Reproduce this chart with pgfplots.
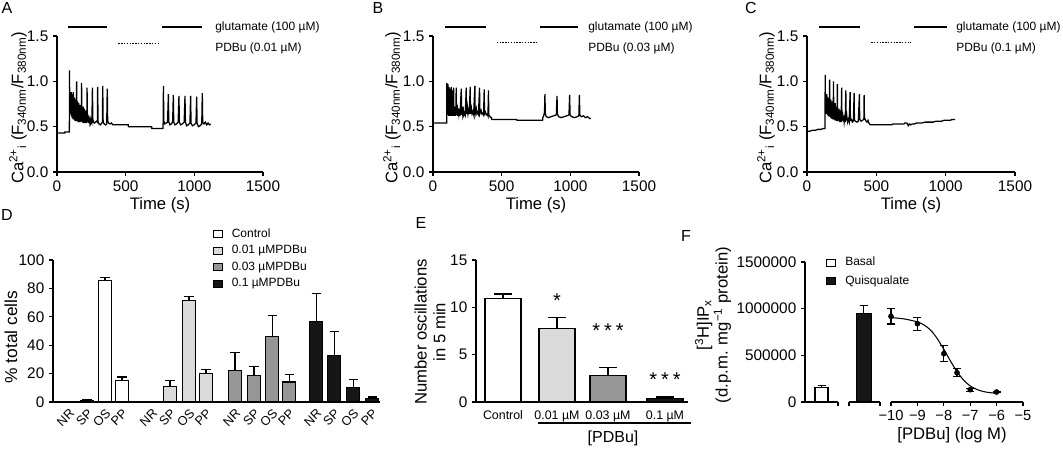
\documentclass[border=0pt]{standalone}
\usepackage{pgfplots}
\pgfplotsset{compat=1.18}
\usepackage{fontspec}
\setmainfont{Liberation Sans}
\definecolor{lg}{RGB}{218,218,218}
\definecolor{mg}{RGB}{150,150,150}
\definecolor{dk}{RGB}{22,22,22}
\newcommand\fa{\fontsize{12.5}{14}\selectfont}
\newcommand\fl{\fontsize{9}{11}\selectfont}
\newcommand\ft{\fontsize{11.5}{13}\selectfont}
\newcommand\fp{\fontsize{12}{14}\selectfont}
\pgfplotsset{
  /pgf/number format/assume math mode=true,
  panel/.style={scale only axis, anchor=south west, axis lines=left,
    axis line style={-, line width=0.9pt, black}, tick align=outside,
    major tick length=3pt, tick style={black, line width=0.9pt},
    tick label style={font=\ft}, enlargelimits=false, clip=false, ymin=0,
    scaled ticks=false},
  trace/.style={panel, width=154.5pt, height=102pt, xmin=0, xmax=1500, ymax=1.5,
    xtick={0,500,1000,1500}, xticklabels={0,500,1000,1500},
    ytick={0,0.5,1,1.5}, yticklabels={0.0,0.5,1.0,1.5}},
  tr/.style={black, line width=0.95pt, no marks},
  glu/.style={black, line width=0.9pt, no marks},
  pdb/.style={black, densely dotted, line width=1.1pt, no marks},
  sqleg/.style={legend image code/.code={\draw[##1, draw=black, line width=0.8pt] (0pt,-2.6pt) rectangle (6.75pt,2.6pt); \path[draw=none, fill=none] (0pt,0pt) rectangle (13pt,0.1pt);}},
  emark/.style={error bars/error mark options={rotate=90, line width=0.8pt, black, mark size=#1}},
}
\begin{document}
\begin{tikzpicture}
\useasboundingbox (0,0) rectangle (797.25pt,336.75pt);

% ---------------- A ----------------
\begin{axis}[trace, at={(42.75pt,207.75pt)}]
\addplot[glu] coordinates {(78,1.6)(362,1.6)};
\addplot[glu] coordinates {(767,1.6)(1053,1.6)};
\addplot[pdb] coordinates {(447,1.42)(738,1.42)};
\addplot[tr] coordinates {(0,0.43)(56,0.43)(57,0.44)(90,0.44)(91,1.12)(93,0.70)(95,0.86)(97,0.66)(99,0.84)(101,0.64)(103,0.88)(105,0.62)(107,0.80)(109,0.60)(111,0.86)(113,0.61)(115,0.78)(117,0.58)(119,0.88)(121,0.60)(123,0.76)(125,0.58)(127,0.82)(129,0.57)(131,0.74)(133,0.56)(135,0.80)(137,0.57)(139,0.72)(141,0.56)(143,1.00)(145,0.58)(147,0.74)(149,0.56)(151,0.78)(153,0.55)(155,0.70)(157,0.56)(159,0.76)(161,0.55)(163,0.68)(165,0.55)(167,0.74)(169,0.55)(171,0.66)(173,0.55)(175,0.72)(177,0.56)(179,0.98)(181,0.56)(183,0.70)(185,0.55)(187,0.66)(189,0.54)(191,0.72)(193,0.55)(195,0.64)(197,0.54)(199,0.70)(201,0.55)(203,0.62)(205,0.54)(207,0.68)(209,0.55)(211,0.62)(213,0.54)(215,0.66)(217,0.55)(219,0.93)(221,0.56)(224,0.64)(227,0.54)(230,0.62)(233,0.54)(236,0.60)(239,0.55)(242,0.58)(246,0.54)(250,0.57)(254,0.55)(258,0.93)(261,0.58)(266,0.55)(272,0.54)(280,0.55)(288,0.56)(294,0.55)(296,0.94)(299,0.56)(306,0.53)(316,0.52)(326,0.54)(331,0.55)(333,0.95)(336,0.55)(344,0.53)(354,0.52)(362,0.53)(366,0.92)(369,0.56)(376,0.54)(386,0.53)(396,0.54)(402,0.53)(405,0.52)(519,0.52)(520,0.50)(689,0.50)(690,0.48)(772,0.48)(773,0.55)(775,0.95)(778,0.56)(785,0.53)(795,0.54)(805,0.55)(811,0.86)(814,0.55)(822,0.52)(832,0.53)(842,0.55)(847,0.85)(850,0.55)(858,0.52)(870,0.53)(882,0.55)(888,0.84)(891,0.55)(900,0.52)(912,0.53)(926,0.55)(932,0.84)(935,0.55)(944,0.51)(956,0.52)(968,0.54)(973,0.84)(976,0.54)(986,0.51)(998,0.52)(1012,0.54)(1017,0.83)(1020,0.54)(1030,0.50)(1042,0.51)(1054,0.53)(1058,0.87)(1061,0.55)(1070,0.53)(1080,0.55)(1090,0.52)(1100,0.54)(1110,0.52)(1119,0.53)};
\end{axis}

% ---------------- B ----------------
\begin{axis}[trace, at={(324.75pt,207.75pt)}]
\addplot[glu] coordinates {(89,1.6)(387,1.6)};
\addplot[glu] coordinates {(779,1.6)(1057,1.6)};
\addplot[pdb] coordinates {(464,1.43)(755,1.43)};
\addplot[tr] coordinates {(0,0.54)(100,0.54)(101,0.98)(103,0.64)(105,0.92)(107,0.63)(109,0.97)(111,0.63)(113,0.86)(115,0.62)(117,0.94)(119,0.62)(121,0.80)(123,0.62)(125,0.92)(127,0.62)(129,0.78)(131,0.62)(133,0.94)(135,0.62)(137,0.76)(139,0.62)(141,0.90)(143,0.62)(145,0.74)(147,0.62)(150,0.93)(152,0.63)(156,0.72)(159,0.62)(163,0.70)(166,0.62)(169,0.93)(171,0.63)(176,0.74)(180,0.62)(185,0.70)(189,0.63)(193,0.66)(196,0.62)(206,0.92)(208,0.63)(213,0.72)(217,0.63)(222,0.68)(226,0.63)(230,0.65)(235,0.63)(242,0.93)(244,0.64)(250,0.72)(255,0.64)(260,0.68)(264,0.64)(271,0.94)(273,0.64)(280,0.70)(285,0.64)(292,0.67)(296,0.64)(305,0.95)(307,0.64)(315,0.70)(320,0.64)(326,0.66)(331,0.64)(339,0.93)(341,0.64)(350,0.68)(356,0.64)(362,0.65)(368,0.63)(373,0.91)(375,0.64)(382,0.66)(388,0.63)(395,0.64)(400,0.62)(404,0.90)(406,0.63)(415,0.61)(425,0.60)(428,0.58)(610,0.58)(611,0.57)(798,0.57)(800,0.60)(806,0.62)(812,0.66)(815,0.86)(818,0.64)(825,0.61)(840,0.60)(860,0.61)(880,0.62)(898,0.63)(903,0.84)(906,0.64)(915,0.61)(935,0.60)(955,0.61)(975,0.62)(990,0.63)(995,0.85)(998,0.63)(1010,0.61)(1030,0.60)(1050,0.61)(1062,0.62)(1066,0.85)(1069,0.63)(1080,0.61)(1095,0.62)(1110,0.60)(1125,0.61)(1140,0.59)(1150,0.59)};
\end{axis}

% ---------------- C ----------------
\begin{axis}[trace, at={(605.25pt,207.75pt)}, width=156pt]
\addplot[glu] coordinates {(89,1.6)(384,1.6)};
\addplot[glu] coordinates {(768,1.6)(1013,1.6)};
\addplot[pdb] coordinates {(463,1.43)(751,1.43)};
\addplot[tr] coordinates {(0,0.45)(20,0.45)(40,0.46)(60,0.46)(80,0.47)(100,0.47)(120,0.48)(130,0.48)(131,1.07)(133,0.68)(135,0.84)(137,0.66)(139,0.80)(141,0.64)(143,0.86)(145,0.64)(147,0.78)(149,0.63)(151,0.82)(153,0.62)(155,0.76)(157,0.62)(159,0.80)(161,0.61)(163,1.02)(165,0.62)(167,0.76)(169,0.60)(171,0.80)(173,0.60)(175,0.74)(177,0.59)(179,0.78)(181,0.59)(183,0.72)(185,0.58)(187,0.76)(189,0.58)(191,1.00)(193,0.60)(195,0.74)(197,0.58)(199,0.70)(201,0.57)(203,0.76)(205,0.57)(207,0.68)(209,0.57)(211,0.72)(213,0.56)(215,0.66)(217,0.56)(219,0.97)(221,0.58)(223,0.70)(225,0.56)(227,0.66)(229,0.56)(231,0.70)(233,0.56)(235,0.64)(237,0.55)(239,0.68)(241,0.55)(243,0.62)(246,0.55)(250,0.93)(252,0.57)(256,0.66)(260,0.56)(264,0.62)(268,0.55)(272,0.60)(276,0.55)(280,0.90)(282,0.57)(287,0.62)(292,0.55)(298,0.58)(304,0.55)(311,0.88)(313,0.57)(320,0.58)(327,0.55)(334,0.56)(340,0.87)(342,0.57)(350,0.56)(360,0.55)(370,0.56)(378,0.86)(380,0.58)(390,0.56)(400,0.57)(410,0.58)(412,0.85)(414,0.60)(420,0.58)(426,0.56)(432,0.55)(440,0.57)(446,0.54)(456,0.52)(600,0.52)(610,0.52)(620,0.53)(650,0.53)(690,0.53)(700,0.53)(705,0.54)(720,0.54)(730,0.51)(738,0.53)(748,0.52)(760,0.53)(775,0.53)(790,0.54)(810,0.54)(830,0.54)(850,0.55)(870,0.55)(890,0.55)(910,0.55)(930,0.56)(950,0.56)(970,0.56)(990,0.57)(1010,0.57)(1030,0.57)(1050,0.58)(1068,0.58)};
\end{axis}

% ---------------- D ----------------
\begin{axis}[panel, sqleg, at={(39.75pt,35.25pt)}, width=245.25pt, height=106.5pt,
  xmin=53, xmax=380, ymax=100, ytick={0,20,40,60,80,100},
  yticklabels={0,20,40,60,80,100},
  xtick={69,87,105,122,152,170,189,206,235,254,272,289,316,334,353,372},
  xticklabels={NR,SP,OS,PP,NR,SP,OS,PP,NR,SP,OS,PP,NR,SP,OS,PP},
  xtick style={draw=none},
  xticklabel style={rotate=45, anchor=north east, font=\fontsize{9.5}{11}\selectfont, inner sep=1pt},
  legend style={draw=none, fill=none, at={(0.475,1.25)}, anchor=north west, font=\fl,
    row sep=2.6pt, nodes={inner sep=1pt}}, legend cell align=left,
  every axis plot/.append style={ybar, bar width=9.4pt, bar shift=0pt, draw=black, line width=0.8pt,
    error bars/y dir=plus, error bars/y explicit,
    error bars/error bar style={line width=0.8pt, black}, emark=3.4pt}]
\addplot[fill=white] coordinates {(87,1.2) +- (0,0.3) (105,85.4) +- (0,2.1) (122,15.3) +- (0,2.3)};
\addlegendentry{Control}
\addplot[fill=lg] coordinates {(170,11) +- (0,4.3) (189,71.3) +- (0,2.7) (206,20) +- (0,3)};
\addlegendentry{0.01 µMPDBu}
\addplot[fill=mg] coordinates {(235,22.4) +- (0,12.4) (254,18.8) +- (0,6.4) (272,45.9) +- (0,15.3) (289,14.1) +- (0,5.4)};
\addlegendentry{0.03 µMPDBu}
\addplot[fill=dk] coordinates {(316,57) +- (0,19.5) (334,33) +- (0,16.4) (353,10.1) +- (0,5.7) (372,2.4) +- (0,1.1)};
\addlegendentry{0.1 µMPDBu}
\end{axis}

% ---------------- E ----------------
\begin{axis}[panel, at={(357pt,35.25pt)}, width=159pt, height=106.5pt,
  xmin=476, xmax=688, ymax=15, ytick={0,5,10,15}, yticklabels={0,5,10,15},
  xtick={503,557,608,665}, xticklabels={Control,0.01 µM,0.03 µM,0.1 µM},
  xtick style={draw=none},
  xticklabel style={font=\fontsize{9.3}{11}\selectfont},
  every axis plot/.append style={ybar, bar width=27pt, bar shift=0pt, draw=black, line width=0.8pt,
    error bars/y dir=plus, error bars/y explicit,
    error bars/error bar style={line width=0.8pt, black}, emark=6.5pt}]
\addplot[fill=white] coordinates {(503,10.96) +- (0,0.45)};
\addplot[fill=lg] coordinates {(557,7.73) +- (0,1.23)};
\addplot[fill=mg] coordinates {(608,2.81) +- (0,0.88)};
\addplot[fill=dk] coordinates {(665,0.35) +- (0,0.18)};
\node[font=\fontsize{15}{16}\selectfont] at (axis cs:557,10.75) {*};
\node[font=\fontsize{15}{16}\selectfont] at (axis cs:608,7.55) {*\hspace{3pt}*\hspace{3pt}*};
\node[font=\fontsize{15}{16}\selectfont] at (axis cs:665,2.4) {*\hspace{3pt}*\hspace{3pt}*};
\end{axis}

% ---------------- F ----------------
\begin{axis}[panel, sqleg, at={(603.75pt,35.25pt)}, width=24.75pt, height=105pt,
  xmin=0, xmax=1, ymax=1500000, ytick={0,500000,1000000,1500000},
  yticklabels={0,500000,1000000,1500000}, xtick={1}, xticklabels={},
  legend style={draw=none, fill=none, at={(0.51,1.064)}, anchor=north west, font=\fl,
    row sep=3.5pt, nodes={inner sep=1pt}}, legend cell align=left]
\addplot[ybar, bar width=9.75pt, bar shift=0pt, fill=white, draw=black, line width=0.8pt,
  error bars/.cd, y dir=plus, y explicit, error bar style={line width=0.8pt, black},
  error mark options={rotate=90, line width=0.8pt, black, mark size=3pt}]
  coordinates {(0.5,160000) +- (0,15000)};
\addlegendentry{Basal}
\addlegendimage{fill=dk, draw=black}
\addlegendentry{Quisqualate}
\end{axis}
\begin{axis}[panel, axis y line=none, at={(636.75pt,35.25pt)}, width=23.25pt, height=105pt,
  xmin=0, xmax=1, ymax=1500000, xtick={0,1}, xticklabels={}]
\addplot[ybar, bar width=11.25pt, bar shift=0pt, fill=dk, draw=black, line width=0.8pt,
  error bars/.cd, y dir=plus, y explicit, error bar style={line width=0.8pt, black},
  error mark options={rotate=90, line width=0.8pt, black, mark size=3pt}]
  coordinates {(0.47,946000) +- (0,84000)};
\end{axis}
\begin{axis}[panel, axis y line=none, at={(668.25pt,35.25pt)}, width=99pt, height=105pt,
  xmin=-10, xmax=-5, ymax=1500000, xtick={-10,-9,-8,-7,-6,-5},
  xticklabels={−10,−9,−8,−7,−6,−5}, xticklabel style={font=\fontsize{11}{13}\selectfont}]
\addplot[black, line width=0.8pt, smooth, no marks] coordinates {(-10,905000)(-9.5,890000)(-9,858000)(-8.75,825000)(-8.5,770000)(-8.25,680000)(-8,565000)(-7.75,440000)(-7.5,325000)(-7.25,235000)(-7,172000)(-6.75,135000)(-6.5,112000)(-6.25,100000)(-6,93000)};
\addplot[black, only marks, mark=*, mark size=1.9pt,
  error bars/.cd, y dir=both, y explicit, error bar style={line width=0.8pt, black},
  error mark options={rotate=90, line width=0.8pt, black, mark size=3pt}]
  coordinates {(-10,918000) +- (0,82000) (-9,839000) +- (0,70000) (-8,518000) +- (0,89000) (-7.5,314000) +- (0,45000) (-7,132000) +- (0,15000) (-6,107000) +- (0,8000)};
\end{axis}

% ---------------- text ----------------
\begin{scope}[x=0.75pt,y=0.75pt]
\node[font=\fp] at (7,441) {A};
\node[font=\fp] at (378,441) {B};
\node[font=\fp] at (751,441) {C};
\node[font=\fp] at (7,234) {D};
\node[font=\fp] at (421,226) {E};
\node[font=\fp] at (686,213) {F};
\foreach \xx/\cc in {215/0.01,588/0.03,956/0.1}{
  \node[font=\fl, anchor=west, inner sep=0pt] at (\xx,422) {glutamate (100 µM)};
  \node[font=\fl, anchor=west, inner sep=0pt] at (\xx,401) {PDBu (\cc\ µM)};
}
\foreach \xx in {18,392,766}{
  \node[rotate=90, font=\fa] at (\xx,341) {Ca\textsuperscript{2+}\textsubscript{i} (F\textsubscript{340nm}/F\textsubscript{380nm})};
}
\foreach \xx in {160,536,911}{
  \node[font=\fa] at (\xx,244) {Time (s)};
}
\node[rotate=90, font=\fontsize{13}{15}\selectfont] at (11,112) {\% total cells};
\node[rotate=90, font=\fa, align=center] at (430,117) {Number oscillations\\in 5 min};
\node[rotate=90, font=\fa, align=center] at (713,124) {[\textsuperscript{3}H]IP\textsubscript{x}\\(d.p.m. mg\textsuperscript{−1} protein)};
\draw[line width=0.9pt] (538,26) -- (691,26);
\node[font=\fontsize{12}{14}\selectfont] at (613,11) {[PDBu]};
\node[font=\fa] at (952,14) {[PDBu] (log M)};
\end{scope}
\end{tikzpicture}
\end{document}
